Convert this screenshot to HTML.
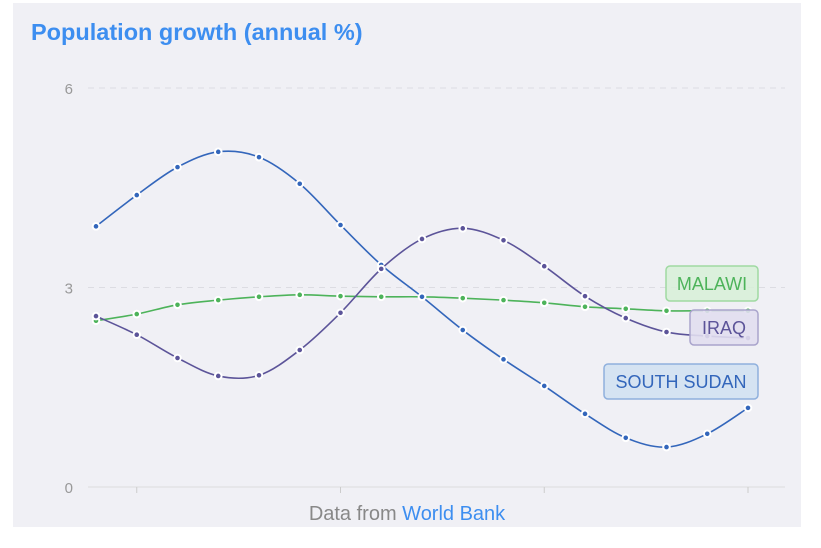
<!DOCTYPE html>
<html><head><meta charset="utf-8"><style>
body{margin:0;background:#fff;font-family:"Liberation Sans",sans-serif}
#panel{position:absolute;left:13px;top:3px;width:788px;height:524px;background:#f0f0f5}
</style></head><body>
<div id="panel"></div>
<svg id="c" width="821" height="548" style="position:absolute;left:0;top:0">
<text x="31" y="40" font-size="23.5" font-weight="bold" fill="#3d8ef0">Population growth (annual %)</text>
<text x="407" y="520" font-size="20" text-anchor="middle" fill="#888">Data from <tspan fill="#3d8ef0">World Bank</tspan></text>
</svg>
<script>
const yTicks=[0,3,6];
const southSudan=[3.92,4.39,4.81,5.04,4.96,4.56,3.94,3.34,2.86,2.36,1.92,1.52,1.10,0.74,0.60,0.80,1.19];
const iraq=[2.57,2.29,1.94,1.67,1.68,2.06,2.62,3.28,3.73,3.89,3.71,3.32,2.87,2.54,2.33,2.27,2.24];
const malawi=[2.50,2.60,2.74,2.81,2.86,2.89,2.87,2.86,2.86,2.84,2.81,2.77,2.71,2.68,2.65,2.65,2.65];
const tickIdx=[1,6,11,16];
const svg=document.getElementById('c');const NS='http://www.w3.org/2000/svg';
const X=i=>96+i*40.75, Y=v=>487-v*66.5;
function mk(t,a){const e=document.createElementNS(NS,t);for(const k in a)e.setAttribute(k,a[k]);svg.appendChild(e);return e;}
yTicks.forEach(v=>{
 const l=mk('line',{x1:88,x2:785,y1:Y(v),y2:Y(v),stroke:v===0?'#ddd':'#dcdce2','stroke-dasharray':v===0?'':'6,5'});
 
 
 const t=mk('text',{x:73,y:Y(v)+6,'font-size':15,fill:'#999','text-anchor':'end'});t.textContent=v;
 
 
});
tickIdx.forEach(i=>{const l=mk('line',{x1:X(i),x2:X(i),y1:487,y2:493,stroke:'#ccc'});
 
 });
function path(d){let s=`M${X(0)},${Y(d[0])}`;const n=d.length;for(let i=0;i<n-1;i++){
 const a=Math.max(i-1,0),b=Math.min(i+2,n-1);
 const x1=X(i),x2=X(i+1);
 const c1x=x1+(X(i+1)-X(a))/6, c1y=Y(d[i])+(Y(d[i+1])-Y(d[a]))/6;
 const c2x=x2-(X(b)-X(i))/6, c2y=Y(d[i+1])-(Y(d[b])-Y(d[i]))/6;
 s+=` C${c1x},${c1y} ${c2x},${c2y} ${x2},${Y(d[i+1])}`;}return s;}
[[malawi,'#4db35a','malawi'],[southSudan,'#3366bb','south-sudan'],[iraq,'#5c5499','iraq']].forEach(([d,c,n])=>{
 const p=mk('path',{d:path(d),fill:'none',stroke:c,'stroke-width':1.6});
 
 
 d.forEach((v,i)=>{const m=mk('circle',{cx:X(i),cy:Y(v),r:3.3,fill:c,stroke:'#fff','stroke-width':2});
  
  });
});
[['MALAWI',666,266,92,'#4db35a','rgba(215,240,215,0.85)','#9fd9a2','malawi-label'],
 ['IRAQ',690,310,68,'#5c5499','rgba(225,222,240,0.9)','#a9a4cc','iraq-label'],
 ['SOUTH SUDAN',604,364,154,'#3366bb','rgba(210,225,242,0.9)','#8fb0dd','south-sudan-label']].forEach(([t,x,y,w,c,bg,bd,n])=>{
 const r=mk('rect',{x:x,y:y,width:w,height:35,rx:4,fill:bg,stroke:bd,'stroke-width':1.5});
 
 
 const tx=mk('text',{x:x+w/2,y:y+24,'font-size':18,fill:c,'text-anchor':'middle'});tx.textContent=t;
 
 
});
</script>
</body></html>
